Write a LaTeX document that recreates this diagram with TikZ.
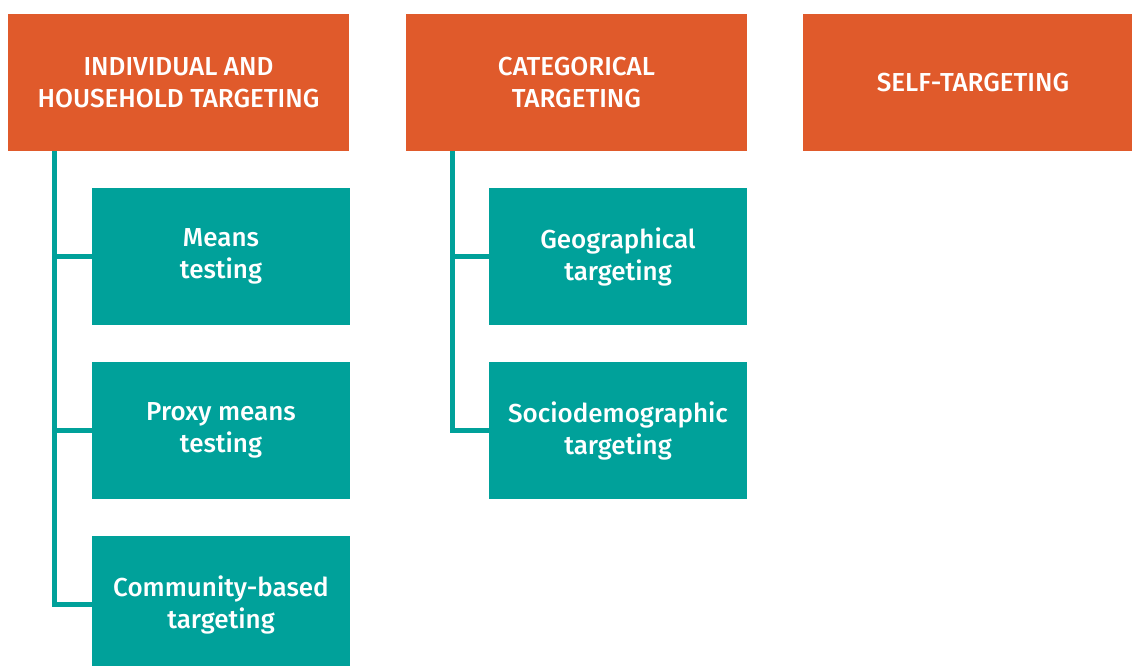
\documentclass[tikz,border=0pt]{standalone}
\usepackage{fontspec}
\setmainfont{Fira Sans}[UprightFont=* Medium]
\definecolor{rust}{HTML}{E05A2B}
\definecolor{teal}{HTML}{00A19A}
\begin{document}
\begin{tikzpicture}[x=1pt,y=-1pt,
  head/.style={fill=rust,text=white,minimum width=#1,minimum height=137pt,
    inner sep=0pt,align=center,font=\fontsize{26}{32}\selectfont},
  sub/.style={fill=teal,text=white,minimum width=258pt,minimum height=137pt,
    inner sep=0pt,align=center,font=\fontsize{26}{32}\selectfont},
  link/.style={draw=teal,line width=5pt}]
\useasboundingbox (0,0) rectangle (1132,666);
\clip (0,0) rectangle (1132,666);
% category headers
\node[head=341pt] (ind) at (178.5,82.5) {INDIVIDUAL AND\\HOUSEHOLD TARGETING};
\node[head=341pt] (cat) at (576.5,82.5) {CATEGORICAL\\TARGETING};
\node[head=340pt] (self) at (973,82.5) {SELF-TARGETING};
% sub-methods
\node[sub] (means) at (221,256.5) {Means\\testing};
\node[sub] (proxy) at (221,430.5) {Proxy means\\testing};
\node[sub] (comm) at (221,604.5) {Community-based\\targeting};
\node[sub] (geo) at (618,256.5) {Geographical\\targeting};
\node[sub] (socio) at (618,430.5) {Sociodemographic\\targeting};
% tree connectors
\coordinate (t1) at (54.5,151);
\coordinate (t2) at (452,151);
\draw[link] (t1) |- (comm.west);
\draw[link] (t1 |- means.west) -- (means.west);
\draw[link] (t1 |- proxy.west) -- (proxy.west);
\draw[link] (t2) |- (socio.west);
\draw[link] (t2 |- geo.west) -- (geo.west);
\end{tikzpicture}
\end{document}
